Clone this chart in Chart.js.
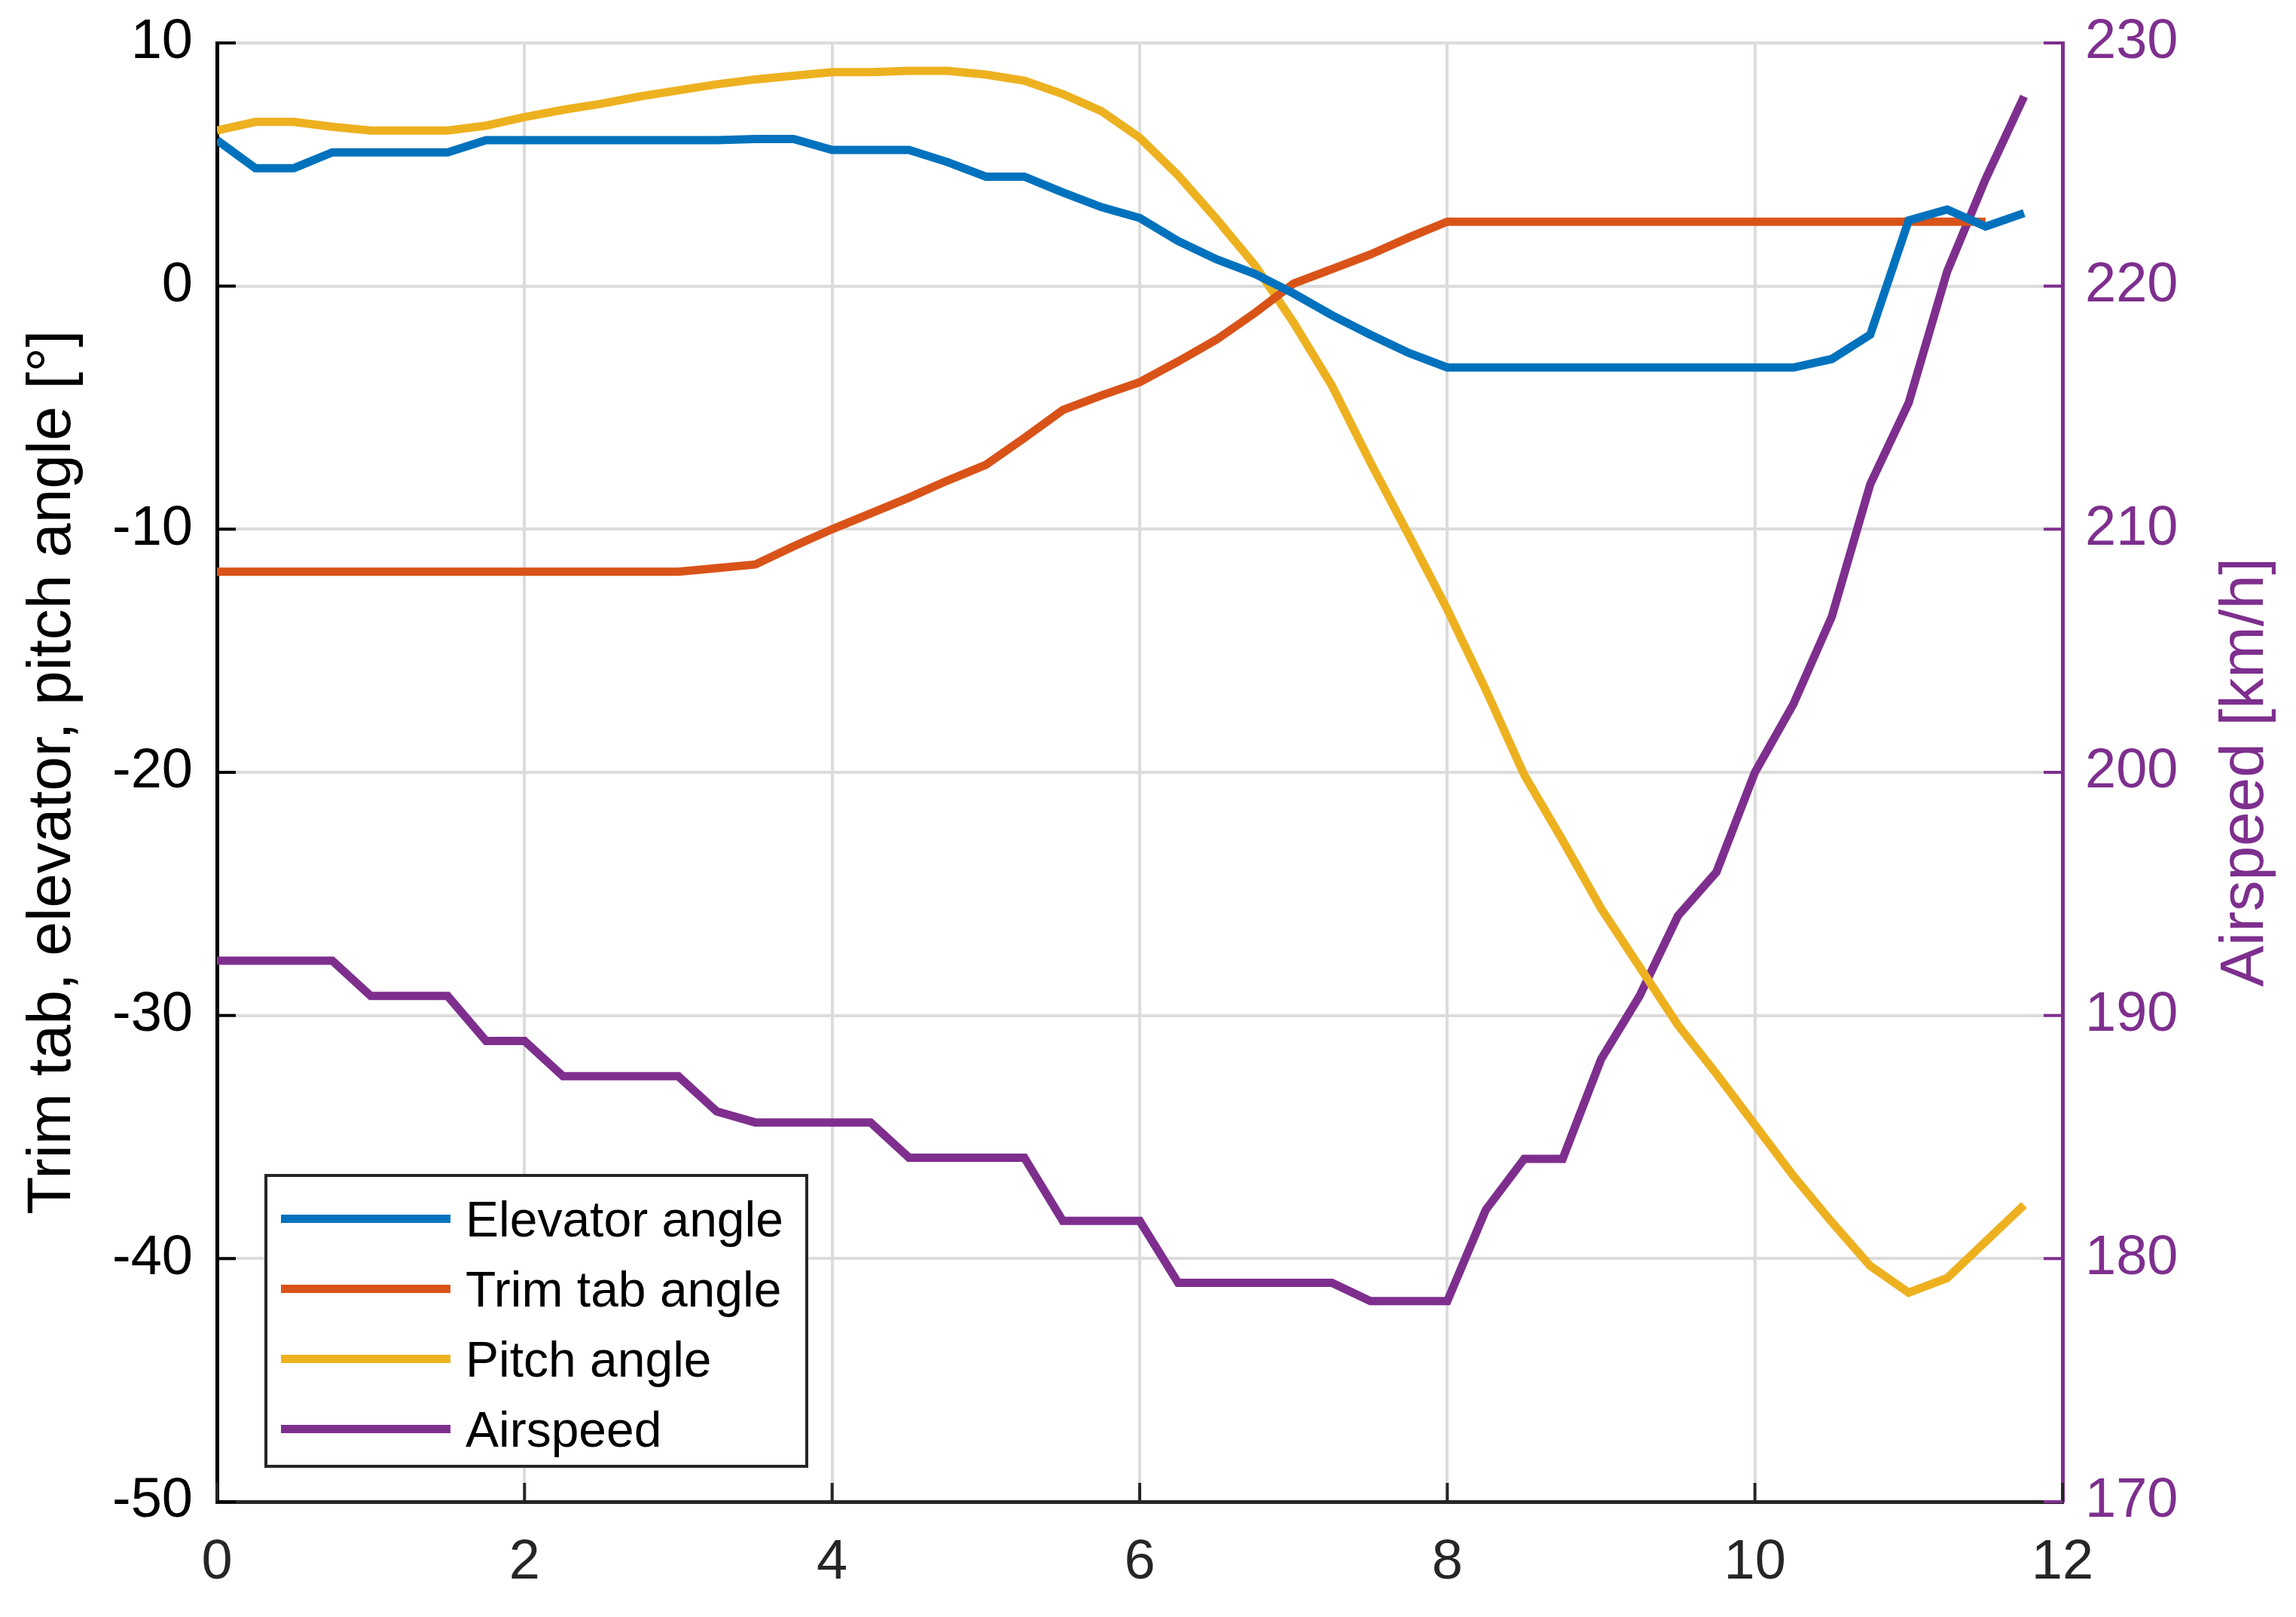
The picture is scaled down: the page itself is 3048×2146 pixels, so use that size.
<!DOCTYPE html>
<html>
<head>
<meta charset="utf-8">
<title>Trim tab, elevator, pitch angle and airspeed</title>
<script src="https://cdn.jsdelivr.net/npm/chart.js@4.4.1/dist/chart.umd.min.js"></script>
<style>
  body { margin: 0; background: #fff; }
  #wrap { position: relative; width: 3048px; height: 2146px; }
  #legend {
    position: absolute; left: 351px; top: 1558px; width: 722px; height: 390px;
    box-sizing: border-box; border: 4px solid #262626; background: #fff;
    padding-top: 9px;
    font-family: 'Liberation Sans', Arial, Helvetica, sans-serif; font-size: 66px; color: #000;
  }
  #legend .row { display: flex; align-items: center; height: 93px; }
  #legend .swatch { width: 225px; height: 11px; margin-left: 18px; margin-right: 20px; }
</style>
</head>
<body>
<div id="wrap">
  <canvas id="grafico" width="3048" height="2146"></canvas>
  <div id="legend"></div>
</div>
<script>
// tiempo (eje x)
const tiempo = [0, 0.25, 0.5, 0.75, 1, 1.25, 1.5, 1.75, 2, 2.25, 2.5, 2.75,
  3, 3.25, 3.5, 3.75, 4, 4.25, 4.5, 4.75, 5, 5.25, 5.5, 5.75,
  6, 6.25, 6.5, 6.75, 7, 7.25, 7.5, 7.75, 8, 8.25, 8.5, 8.75,
  9, 9.25, 9.5, 9.75, 10, 10.25, 10.5, 10.75, 11, 11.25, 11.5, 11.75];

// angulos en grados (eje izquierdo)
const elevador = [6.0, 4.85, 4.85, 5.5, 5.5, 5.5, 5.5, 6.0, 6.0, 6.0, 6.0, 6.0,
  6.0, 6.0, 6.05, 6.05, 5.6, 5.6, 5.6, 5.1, 4.5, 4.5, 3.85, 3.25,
  2.8, 1.85, 1.1, 0.5, -0.3, -1.2, -2.0, -2.75, -3.35, -3.35, -3.35, -3.35,
  -3.35, -3.35, -3.35, -3.35, -3.35, -3.35, -3.0, -2.0, 2.7, 3.15, 2.45, 3.0];

// trim tab termina en 11.5
const trimTab = [-11.75, -11.75, -11.75, -11.75, -11.75, -11.75, -11.75, -11.75, -11.75, -11.75, -11.75, -11.75,
  -11.75, -11.6, -11.45, -10.7, -10.0, -9.35, -8.7, -8.0, -7.35, -6.25, -5.1, -4.5,
  -3.95, -3.1, -2.2, -1.1, 0.1, 0.7, 1.3, 2.0, 2.65, 2.65, 2.65, 2.65,
  2.65, 2.65, 2.65, 2.65, 2.65, 2.65, 2.65, 2.65, 2.65, 2.65, 2.65];

const cabeceo = [6.4, 6.75, 6.75, 6.55, 6.4, 6.4, 6.4, 6.6, 6.95, 7.25, 7.5, 7.8,
  8.05, 8.3, 8.5, 8.65, 8.8, 8.8, 8.85, 8.85, 8.7, 8.45, 7.9, 7.2,
  6.1, 4.55, 2.75, 0.85, -1.5, -4.1, -7.25, -10.25, -13.3, -16.6, -20.1, -22.8,
  -25.6, -28.0, -30.4, -32.4, -34.5, -36.6, -38.5, -40.3, -41.4, -40.8, -39.3, -37.8];

// velocidad en km/h (eje derecho)
const velocidad = [192.25, 192.25, 192.25, 192.25, 190.8, 190.8, 190.8, 188.95, 188.95, 187.5, 187.5, 187.5,
  187.5, 186.05, 185.6, 185.6, 185.6, 185.6, 184.15, 184.15, 184.15, 184.15, 181.55, 181.55,
  181.55, 179.0, 179.0, 179.0, 179.0, 179.0, 178.25, 178.25, 178.25, 182.0, 184.1, 184.1,
  188.2, 190.8, 194.1, 195.9, 200.0, 202.8, 206.4, 211.85, 215.2, 220.6, 224.4, 227.8];

const ticksX = [0, 2, 4, 6, 8, 10, 12];
const ticksIzq = [-50, -40, -30, -20, -10, 0, 10];
const ticksDer = [170, 180, 190, 200, 210, 220, 230];

const nombres = ['Elevator angle', 'Trim tab angle', 'Pitch angle', 'Airspeed'];
const colores = ['#0072BD', '#D95319', '#EDB120', '#7E2F8E'];

const fuente = "'Liberation Sans', Arial, Helvetica, sans-serif";
const colorEje = '#262626';
const morado = '#7E2F8E';

function puntos(valores) {
  return valores.map((v, i) => ({ x: tiempo[i], y: v }));
}

// marcas hacia adentro (estilo MATLAB) y titulo derecho
const marcasInternas = {
  id: 'marcasInternas',
  afterDraw(chart) {
    const { ctx, chartArea: a, scales } = chart;
    const largo = 25;
    ctx.save();
    ctx.lineWidth = 4;
    ctx.strokeStyle = colorEje;
    ticksX.forEach(t => {
      const px = scales.x.getPixelForValue(t);
      ctx.beginPath(); ctx.moveTo(px, a.bottom); ctx.lineTo(px, a.bottom - largo); ctx.stroke();
    });
    ctx.strokeStyle = '#000';
    ticksIzq.forEach(t => {
      const py = scales.y.getPixelForValue(t);
      ctx.beginPath(); ctx.moveTo(a.left, py); ctx.lineTo(a.left + largo, py); ctx.stroke();
    });
    ctx.strokeStyle = morado;
    ticksDer.forEach(t => {
      const py = scales.y2.getPixelForValue(t);
      ctx.beginPath(); ctx.moveTo(a.right, py); ctx.lineTo(a.right - largo, py); ctx.stroke();
    });
    // titulo del eje derecho, leido de abajo hacia arriba
    ctx.translate(3004, (a.top + a.bottom) / 2);
    ctx.rotate(-Math.PI / 2);
    ctx.fillStyle = morado;
    ctx.font = '82px ' + fuente;
    ctx.textAlign = 'center';
    ctx.textBaseline = 'alphabetic';
    ctx.fillText('Airspeed [km/h]', 0, 0);
    ctx.restore();
  }
};

// quitar el margen extra que Chart.js reserva para las etiquetas de los extremos
function sinRelleno(s) {
  s.paddingTop = 0; s.paddingBottom = 0; s.paddingLeft = 0; s.paddingRight = 0;
}

new Chart(document.getElementById('grafico').getContext('2d'), {
  type: 'line',
  data: {
    datasets: [
      { label: nombres[0], data: puntos(elevador), borderColor: colores[0], yAxisID: 'y' },
      { label: nombres[1], data: puntos(trimTab), borderColor: colores[1], yAxisID: 'y' },
      { label: nombres[2], data: puntos(cabeceo), borderColor: colores[2], yAxisID: 'y' },
      { label: nombres[3], data: puntos(velocidad), borderColor: colores[3], yAxisID: 'y2' }
    ].map(d => Object.assign(d, { borderWidth: 11, pointRadius: 0, tension: 0, fill: false }))
  },
  options: {
    responsive: false,
    devicePixelRatio: 1,
    animation: false,
    layout: { padding: { top: 57, left: 0, right: 0, bottom: 0 } },
    plugins: { legend: { display: false }, tooltip: { enabled: false } },
    scales: {
      x: {
        type: 'linear', min: 0, max: 12,
        afterBuildTicks: s => { s.ticks = ticksX.map(v => ({ value: v })); },
        afterFit: s => { s.height = 153; sinRelleno(s); },
        ticks: { color: colorEje, font: { family: fuente, size: 74 }, padding: 37, maxRotation: 0 },
        grid: { color: '#dcdcdc', lineWidth: 4, drawTicks: false },
        border: { color: colorEje, width: 5 }
      },
      y: {
        position: 'left', min: -50, max: 10,
        afterBuildTicks: s => { s.ticks = ticksIzq.map(v => ({ value: v })); },
        afterFit: s => { s.width = 288; sinRelleno(s); },
        ticks: { color: '#000', font: { family: fuente, size: 74 }, padding: 32 },
        grid: { color: '#dcdcdc', lineWidth: 4, drawTicks: false },
        border: { color: '#000', width: 5 },
        title: { display: true, text: 'Trim tab, elevator, pitch angle [°]', color: '#000',
          font: { family: fuente, size: 82 }, padding: { top: 21, bottom: 0 } }
      },
      y2: {
        position: 'right', min: 170, max: 230,
        afterBuildTicks: s => { s.ticks = ticksDer.map(v => ({ value: v })); },
        afterFit: s => { s.width = 310; sinRelleno(s); },
        ticks: { color: morado, font: { family: fuente, size: 74 }, padding: 30 },
        grid: { display: false, drawTicks: false },
        border: { color: morado, width: 5 }
      }
    }
  },
  plugins: [marcasInternas]
});

// leyenda en HTML
const leyenda = document.getElementById('legend');
nombres.forEach((n, i) => {
  const fila = document.createElement('div');
  fila.className = 'row';
  fila.innerHTML = '<span class="swatch" style="background:' + colores[i] + '"></span><span>' + n + '</span>';
  leyenda.appendChild(fila);
});
</script>
</body>
</html>
